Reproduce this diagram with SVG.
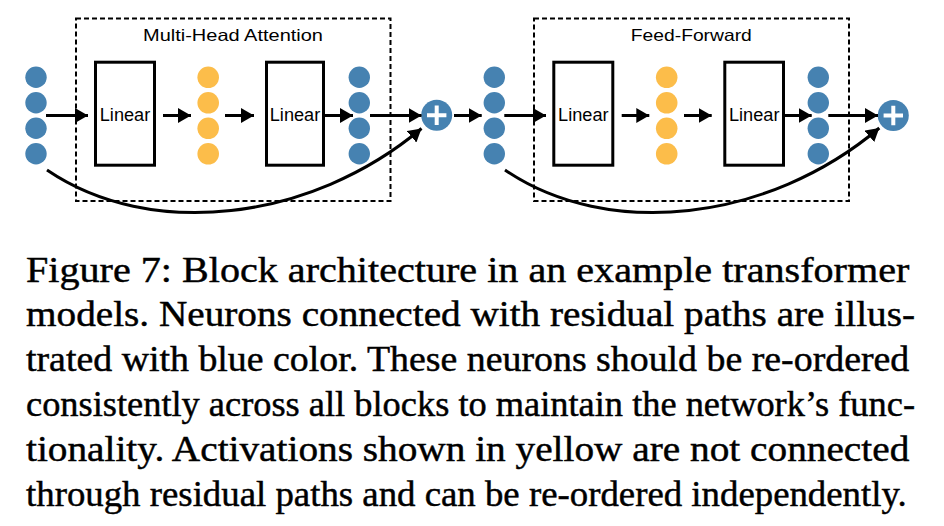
<svg xmlns="http://www.w3.org/2000/svg" width="944" height="526" viewBox="0 0 944 526">
<style>
.blue{fill:#4682B1}
.yel{fill:#FCBD4A}
.box{fill:#fff;stroke:#000;stroke-width:3}
.dash{fill:none;stroke:#000;stroke-width:2;stroke-dasharray:5 3}
.lbl{font-family:"Liberation Sans",Arial,sans-serif;font-size:17.5px;fill:#000;text-anchor:middle}
.ttl{font-family:"Liberation Sans",Arial,sans-serif;font-size:16.5px;fill:#000}
.arr{fill:none;stroke:#000;stroke-width:3;marker-end:url(#ah)}
.plus{stroke:#fff;stroke-width:4;stroke-linecap:butt}
.cap{font-family:"Liberation Serif","Times New Roman",serif;font-size:36px;fill:#000;stroke:#000;stroke-width:0.45}
</style>
<defs>
<marker id="ah" markerUnits="userSpaceOnUse" markerWidth="14" markerHeight="15" refX="13" refY="7.5" orient="auto">
<path d="M0,0 L13,7.5 L0,15 z" fill="#000"/>
</marker>
<g id="col4b">
<circle cx="0" cy="77.3" r="10.7" class="blue"/>
<circle cx="0" cy="102.8" r="10.7" class="blue"/>
<circle cx="0" cy="128.3" r="10.7" class="blue"/>
<circle cx="0" cy="153.8" r="10.7" class="blue"/>
</g>
<g id="col4y">
<circle cx="0" cy="77.3" r="10.8" class="yel"/>
<circle cx="0" cy="102.8" r="10.8" class="yel"/>
<circle cx="0" cy="128.3" r="10.8" class="yel"/>
<circle cx="0" cy="153.8" r="10.8" class="yel"/>
</g>
</defs>
<rect width="944" height="526" fill="#fff"/>

<g id="mha">
<rect x="76" y="18.5" width="314.5" height="182.5" class="dash"/>
<text x="233" y="40.7" class="ttl" text-anchor="middle" textLength="180" lengthAdjust="spacingAndGlyphs">Multi-Head Attention</text>
</g>
<g id="ff">
<rect x="534" y="18.5" width="315" height="182.5" class="dash"/>
<text x="691.3" y="40.7" class="ttl" text-anchor="middle" textLength="121" lengthAdjust="spacingAndGlyphs">Feed-Forward</text>
</g>

<g id="in1"><use href="#col4b" x="36"/></g>
<g id="lin1"><rect x="95.5" y="62.2" width="59" height="103" class="box"/><text x="125" y="120.7" class="lbl" textLength="50.5" lengthAdjust="spacingAndGlyphs">Linear</text></g>
<g id="act1"><use href="#col4y" x="208.2"/></g>
<g id="lin2"><rect x="266.5" y="62.2" width="57" height="103" class="box"/><text x="295" y="120.7" class="lbl" textLength="50.5" lengthAdjust="spacingAndGlyphs">Linear</text></g>
<g id="out1"><use href="#col4b" x="359.3"/></g>
<g id="add1"><circle cx="436.7" cy="115.3" r="15.5" class="blue"/><path d="M427,115.3 H446.4 M436.7,105.6 V125" class="plus"/></g>

<g id="in2"><use href="#col4b" x="494.3"/></g>
<g id="lin3"><rect x="553.8" y="62.2" width="59" height="103" class="box"/><text x="583.3" y="120.7" class="lbl" textLength="50.5" lengthAdjust="spacingAndGlyphs">Linear</text></g>
<g id="act2"><use href="#col4y" x="666.7"/></g>
<g id="lin4"><rect x="724.8" y="62.2" width="58.7" height="103" class="box"/><text x="754.2" y="120.7" class="lbl" textLength="50.5" lengthAdjust="spacingAndGlyphs">Linear</text></g>
<g id="out2"><use href="#col4b" x="818.3"/></g>
<g id="add2"><circle cx="893.3" cy="115.5" r="15.5" class="blue"/><path d="M883.6,115.5 H903 M893.3,105.8 V125.2" class="plus"/></g>

<g id="connectors">
<path d="M46,115.5 H88" class="arr"/>
<path d="M163,115.5 H191" class="arr"/>
<path d="M225,115.5 H254" class="arr"/>
<path d="M325,115.5 H353" class="arr"/>
<path d="M370,115.5 H421.5" class="arr"/>
<path d="M454,115.5 H481.7" class="arr"/>
<path d="M504.3,115.5 H546" class="arr"/>
<path d="M621.7,115.5 H649.3" class="arr"/>
<path d="M684,115.5 H711.7" class="arr"/>
<path d="M785,115.5 H811.7" class="arr"/>
<path d="M828.3,115.5 H878" class="arr"/>
<path d="M47,170 C150,240 310,222 421.5,128.5" class="arr"/>
<path d="M505,170 C608,240 768,222 879.3,128" class="arr"/>
</g>

<g id="caption">
<text x="26" y="282" class="cap" textLength="883.3" lengthAdjust="spacingAndGlyphs">Figure 7:  Block architecture in an example transformer</text>
<text x="26" y="326" class="cap" textLength="889" lengthAdjust="spacingAndGlyphs">models.  Neurons connected with residual paths are illus-</text>
<text x="26" y="371" class="cap" textLength="883.3" lengthAdjust="spacingAndGlyphs">trated with blue color. These neurons should be re-ordered</text>
<text x="26" y="416" class="cap" textLength="889" lengthAdjust="spacingAndGlyphs">consistently across all blocks to maintain the network’s func-</text>
<text x="26" y="461" class="cap" textLength="883.3" lengthAdjust="spacingAndGlyphs">tionality.  Activations shown in yellow are not connected</text>
<text x="26" y="506" class="cap" textLength="880.7" lengthAdjust="spacingAndGlyphs">through residual paths and can be re-ordered independently.</text>
</g>
</svg>
